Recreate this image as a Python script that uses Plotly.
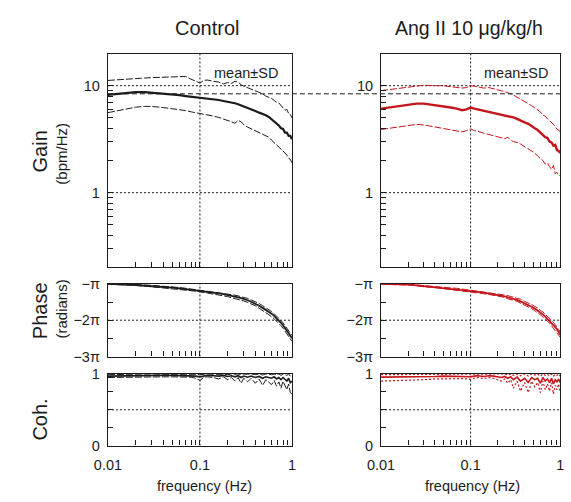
import plotly.graph_objects as go

# ---------------- data ----------------
freq = [0.01, 0.015, 0.02, 0.025, 0.03, 0.04, 0.05, 0.06, 0.07, 0.08, 0.09, 0.10,
        0.11, 0.12, 0.14, 0.16, 0.18, 0.20, 0.22, 0.24, 0.26, 0.28, 0.30, 0.33,
        0.36, 0.40, 0.44, 0.48, 0.52, 0.56, 0.60, 0.64, 0.68, 0.72, 0.76, 0.80,
        0.84, 0.88, 0.92, 0.96, 1.00]

ctrl_gain_mean = [8.2, 8.5, 8.7, 8.7, 8.6, 8.45, 8.3, 8.15, 8.0, 7.9, 7.8, 7.7,
                  7.65, 7.6, 7.45, 7.35, 7.2, 7.1, 6.95, 6.85, 6.7, 6.55, 6.4, 6.2,
                  6.0, 5.8, 5.6, 5.45, 5.3, 5.1, 4.85, 4.65, 4.45, 4.25, 4.0, 3.95,
                  3.65, 3.65, 3.4, 3.4, 3.15]
ctrl_gain_upper = [11.2, 11.5, 11.8, 11.8, 11.9, 12.0, 12.0, 12.1, 12.2, 11.5, 11.0, 10.6,
                   11.2, 11.3, 11.0, 10.8, 10.4, 10.7, 10.5, 11.0, 10.8, 10.2, 9.9, 9.6,
                   9.3, 9.0, 8.7, 8.4, 8.0, 7.8, 7.6, 7.3, 7.0, 6.9, 6.5, 6.3,
                   5.9, 6.0, 5.5, 5.4, 5.0]
ctrl_gain_lower = [5.6, 6.0, 6.3, 6.4, 6.4, 6.25, 6.1, 6.0, 5.85, 5.7, 5.6, 5.5,
                   5.4, 5.35, 5.2, 5.05, 4.9, 4.75, 4.6, 4.45, 4.75, 4.6, 4.3, 4.1,
                   3.95, 3.8, 3.65, 3.5, 3.4, 3.3, 3.1, 2.95, 2.8, 2.7, 2.55, 2.45,
                   2.35, 2.25, 2.1, 2.05, 1.9]

ang_gain_mean = [6.1, 6.4, 6.65, 6.8, 6.8, 6.6, 6.4, 6.25, 6.1, 5.9, 6.0, 6.25,
                 6.1, 6.0, 5.85, 5.75, 5.6, 5.5, 5.4, 5.3, 5.2, 5.1, 5.05, 4.9,
                 4.7, 4.55, 4.4, 4.15, 4.0, 3.85, 3.65, 3.5, 3.3, 3.25, 3.0, 2.95,
                 2.75, 2.8, 2.5, 2.45, 2.35]
ang_gain_upper = [9.0, 9.4, 9.7, 9.9, 10.1, 10.0, 10.0, 9.8, 9.7, 9.5, 9.6, 10.0,
                  9.9, 9.7, 9.5, 9.6, 9.4, 9.2, 9.0, 8.8, 8.6, 8.4, 8.2, 7.8,
                  7.5, 7.2, 6.8, 6.5, 6.2, 5.9, 5.7, 5.3, 5.2, 4.9, 4.7, 4.5,
                  4.3, 4.2, 3.9, 3.85, 3.7]
ang_gain_lower = [3.9, 4.1, 4.3, 4.35, 4.3, 4.1, 3.95, 3.85, 3.75, 3.7, 3.8, 3.95,
                  3.8, 3.75, 3.6, 3.5, 3.45, 3.35, 3.3, 3.2, 3.3, 3.1, 3.0, 2.95,
                  2.85, 2.7, 2.6, 2.45, 2.35, 2.2, 2.1, 2.0, 1.85, 1.9, 1.75, 1.65,
                  1.8, 1.5, 1.55, 1.45, 1.45]

# phase in units of pi (radians / pi)
ctrl_phase_mean = [-1.00, -1.01, -1.03, -1.05, -1.06, -1.08, -1.10, -1.12, -1.14, -1.16, -1.17, -1.19,
                   -1.20, -1.22, -1.24, -1.26, -1.28, -1.30, -1.33, -1.35, -1.37, -1.39, -1.41, -1.45,
                   -1.49, -1.54, -1.60, -1.66, -1.71, -1.76, -1.82, -1.88, -1.94, -2.00, -2.07, -2.14,
                   -2.21, -2.29, -2.36, -2.43, -2.50]
ctrl_phase_upper = [-0.99, -1.00, -1.02, -1.03, -1.04, -1.06, -1.08, -1.10, -1.12, -1.14, -1.15, -1.17,
                    -1.18, -1.19, -1.21, -1.23, -1.25, -1.27, -1.29, -1.31, -1.33, -1.35, -1.37, -1.40,
                    -1.44, -1.49, -1.54, -1.60, -1.65, -1.70, -1.76, -1.82, -1.88, -1.94, -2.01, -2.07,
                    -2.14, -2.21, -2.28, -2.35, -2.42]
ctrl_phase_lower = [-1.01, -1.02, -1.04, -1.06, -1.08, -1.10, -1.12, -1.14, -1.16, -1.18, -1.20, -1.22,
                    -1.23, -1.25, -1.28, -1.30, -1.32, -1.35, -1.38, -1.40, -1.42, -1.45, -1.47, -1.51,
                    -1.55, -1.60, -1.67, -1.73, -1.78, -1.84, -1.90, -1.96, -2.02, -2.08, -2.15, -2.22,
                    -2.30, -2.38, -2.45, -2.52, -2.58]

ang_phase_mean = [-1.00, -1.00, -1.02, -1.04, -1.06, -1.09, -1.11, -1.13, -1.14, -1.16, -1.17, -1.19,
                  -1.20, -1.22, -1.24, -1.26, -1.28, -1.30, -1.32, -1.34, -1.37, -1.39, -1.41, -1.44,
                  -1.48, -1.53, -1.58, -1.63, -1.68, -1.73, -1.79, -1.84, -1.90, -1.96, -2.01, -2.07,
                  -2.13, -2.19, -2.25, -2.32, -2.40]
ang_phase_upper = [-0.99, -0.99, -1.01, -1.03, -1.05, -1.07, -1.09, -1.11, -1.12, -1.14, -1.15, -1.17,
                   -1.18, -1.19, -1.21, -1.23, -1.25, -1.27, -1.28, -1.31, -1.32, -1.35, -1.36, -1.40,
                   -1.42, -1.48, -1.52, -1.57, -1.62, -1.66, -1.73, -1.77, -1.84, -1.89, -1.95, -2.00,
                   -2.06, -2.12, -2.18, -2.25, -2.33]
ang_phase_lower = [-1.01, -1.01, -1.03, -1.05, -1.08, -1.10, -1.13, -1.15, -1.16, -1.18, -1.19, -1.21,
                   -1.22, -1.24, -1.27, -1.29, -1.31, -1.33, -1.36, -1.37, -1.41, -1.43, -1.46, -1.48,
                   -1.53, -1.58, -1.64, -1.68, -1.74, -1.79, -1.85, -1.91, -1.96, -2.03, -2.08, -2.15,
                   -2.20, -2.27, -2.33, -2.40, -2.47]

ctrl_coh_mean = [0.97, 0.975, 0.98, 0.98, 0.98, 0.98, 0.98, 0.98, 0.98, 0.975, 0.97, 0.96,
                 0.975, 0.98, 0.975, 0.97, 0.98, 0.965, 0.975, 0.96, 0.975, 0.95, 0.97, 0.955,
                 0.97, 0.95, 0.965, 0.94, 0.96, 0.95, 0.94, 0.96, 0.93, 0.95, 0.92, 0.95,
                 0.93, 0.90, 0.94, 0.88, 0.90]
ctrl_coh_upper = [0.99, 0.995, 0.995, 0.995, 1.0, 0.995, 1.0, 0.995, 0.995, 1.0, 0.995, 0.99,
                  0.995, 1.0, 0.995, 1.0, 0.995, 0.99, 1.0, 0.995, 1.0, 0.99, 1.0, 0.995,
                  1.0, 0.99, 1.0, 0.985, 1.0, 0.995, 0.99, 1.0, 0.985, 1.0, 0.98, 1.0,
                  0.99, 0.98, 1.0, 0.97, 0.99]
ctrl_coh_lower = [0.95, 0.955, 0.96, 0.96, 0.96, 0.96, 0.96, 0.96, 0.96, 0.955, 0.94, 0.91,
                  0.95, 0.96, 0.95, 0.93, 0.96, 0.92, 0.95, 0.90, 0.95, 0.87, 0.94, 0.89,
                  0.94, 0.87, 0.93, 0.84, 0.92, 0.88, 0.85, 0.91, 0.83, 0.89, 0.80, 0.90,
                  0.84, 0.78, 0.86, 0.74, 0.72]

ang_coh_mean = [0.955, 0.955, 0.96, 0.96, 0.965, 0.965, 0.97, 0.965, 0.97, 0.965, 0.96, 0.96,
                0.97, 0.975, 0.965, 0.975, 0.97, 0.96, 0.95, 0.965, 0.94, 0.96, 0.92, 0.955,
                0.90, 0.94, 0.88, 0.95, 0.92, 0.94, 0.87, 0.95, 0.90, 0.93, 0.88, 0.94,
                0.86, 0.92, 0.89, 0.93, 0.88]
ang_coh_upper = [0.99, 0.99, 0.995, 0.995, 0.995, 1.0, 0.995, 1.0, 0.995, 1.0, 0.995, 0.99,
                 1.0, 1.0, 0.995, 1.0, 1.0, 0.995, 0.99, 1.0, 0.985, 1.0, 0.98, 1.0,
                 0.975, 1.0, 0.97, 1.0, 0.985, 1.0, 0.97, 1.0, 0.98, 0.995, 0.975, 1.0,
                 0.97, 0.995, 0.98, 1.0, 0.97]
ang_coh_lower = [0.90, 0.905, 0.91, 0.915, 0.92, 0.93, 0.935, 0.935, 0.94, 0.935, 0.93, 0.925,
                 0.94, 0.95, 0.935, 0.95, 0.94, 0.92, 0.90, 0.93, 0.87, 0.92, 0.80, 0.90,
                 0.76, 0.88, 0.74, 0.90, 0.82, 0.88, 0.74, 0.90, 0.78, 0.86, 0.76, 0.88,
                 0.72, 0.84, 0.78, 0.86, 0.74]

ref_gain = 8.4  # control low-frequency gain reference level

# ticks (labels empty on minor ticks)
x_tickvals = [0.01, 0.02, 0.03, 0.04, 0.05, 0.06, 0.07, 0.08, 0.09,
              0.1, 0.2, 0.3, 0.4, 0.5, 0.6, 0.7, 0.8, 0.9, 1]
x_ticktext = ["0.01", "", "", "", "", "", "", "", "",
              "0.1", "", "", "", "", "", "", "", "", "1"]
gain_tickvals = [0.3, 0.4, 0.5, 0.6, 0.7, 0.8, 0.9, 1, 2, 3, 4, 5, 6, 7, 8, 9, 10]
gain_ticktext = ["", "", "", "", "", "", "", "1", "", "", "", "", "", "", "", "", "10"]
phase_tickvals = [-3, -2.5, -2, -1.5, -1]
phase_ticktext = ["\u22123\u03c0", "", "\u22122\u03c0", "", "\u2212\u03c0"]
coh_tickvals = [0, 0.25, 0.5, 0.75, 1]
coh_ticktext = ["0", "", "", "", "1"]

# dotted grid positions
x_grid = [0.1]
gain_grid = [1, 10]
phase_grid = [-2]
coh_grid = [0.5]

# ---------------- styling ----------------
W, H = 571, 502
BLACK = "#1c1c1c"
RED = "#c4161c"
FONT = "Liberation Sans, Arial, sans-serif"

xL = [97 / W, 287 / W]
xR = [379 / W, 564 / W]
yGain = [1 - 268 / H, 1 - 47 / H]
yPhase = [1 - 360 / H, 1 - 285 / H]
yCoh = [1 - 452 / H, 1 - 378 / H]

fig = go.Figure()


def add(x, y, xa, ya, color, width, dash):
    fig.add_trace(go.Scatter(x=x, y=y, xaxis=xa, yaxis=ya, mode="lines",
                             line=dict(color=color, width=width, dash=dash),
                             showlegend=False, hoverinfo="skip"))


SD_DASH = "7px,2px"
COH_DOT = "2px,2px"

# Control
add(freq, ctrl_gain_upper, "x", "y", BLACK, 1, SD_DASH)
add(freq, ctrl_gain_lower, "x", "y", BLACK, 1, SD_DASH)
add(freq, ctrl_gain_mean, "x", "y", BLACK, 2.2, "solid")
add(freq, ctrl_phase_upper, "x2", "y2", BLACK, 1, SD_DASH)
add(freq, ctrl_phase_lower, "x2", "y2", BLACK, 1, SD_DASH)
add(freq, ctrl_phase_mean, "x2", "y2", BLACK, 1.8, "solid")
add(freq, ctrl_coh_upper, "x3", "y3", BLACK, 1, SD_DASH)
add(freq, ctrl_coh_lower, "x3", "y3", BLACK, 1, SD_DASH)
add(freq, ctrl_coh_mean, "x3", "y3", BLACK, 1.6, "solid")
# Ang II
add(freq, ang_gain_upper, "x4", "y4", RED, 1, SD_DASH)
add(freq, ang_gain_lower, "x4", "y4", RED, 1, SD_DASH)
add(freq, ang_gain_mean, "x4", "y4", RED, 2.4, "solid")
add(freq, ang_phase_upper, "x5", "y5", RED, 1, SD_DASH)
add(freq, ang_phase_lower, "x5", "y5", RED, 1, SD_DASH)
add(freq, ang_phase_mean, "x5", "y5", RED, 1.8, "solid")
add(freq, ang_coh_upper, "x6", "y6", RED, 1.2, COH_DOT)
add(freq, ang_coh_lower, "x6", "y6", RED, 1.2, COH_DOT)
add(freq, ang_coh_mean, "x6", "y6", RED, 1.6, "solid")

tickfont = dict(family=FONT, size=14.5, color=BLACK)
common = dict(showline=True, linecolor=BLACK, linewidth=1.2, mirror=True,
              ticks="inside", ticklen=5, tickcolor=BLACK, tickwidth=1.2,
              showgrid=False, zeroline=False, tickfont=tickfont, fixedrange=True,
              tickmode="array")


def xaxis(domain, anchor, labels):
    return dict(common, type="log", domain=domain, anchor=anchor,
                range=[-2, 0], tickvals=x_tickvals, ticktext=x_ticktext,
                showticklabels=labels, ticklabelstandoff=6)


def gain_y(domain, anchor):
    return dict(common, type="log", domain=domain, anchor=anchor,
                range=[-0.699, 1.301], tickvals=gain_tickvals,
                ticktext=gain_ticktext, ticklabelstandoff=4)


def phase_y(domain, anchor):
    return dict(common, domain=domain, anchor=anchor, range=[-3, -1],
                tickvals=phase_tickvals, ticktext=phase_ticktext, ticklabelstandoff=4)


def coh_y(domain, anchor):
    return dict(common, domain=domain, anchor=anchor, range=[0, 1],
                tickvals=coh_tickvals, ticktext=coh_ticktext, ticklabelstandoff=4)


fig.update_layout(
    width=W, height=H,
    margin=dict(l=0, r=0, t=0, b=0),
    paper_bgcolor="white", plot_bgcolor="white",
    showlegend=False,
    font=dict(family=FONT, color=BLACK),
    xaxis=xaxis(xL, "y", False),
    yaxis=gain_y(yGain, "x"),
    xaxis2=xaxis(xL, "y2", False),
    yaxis2=phase_y(yPhase, "x2"),
    xaxis3=xaxis(xL, "y3", True),
    yaxis3=coh_y(yCoh, "x3"),
    xaxis4=xaxis(xR, "y4", False),
    yaxis4=gain_y(yGain, "x4"),
    xaxis5=xaxis(xR, "y5", False),
    yaxis5=phase_y(yPhase, "x5"),
    xaxis6=xaxis(xR, "y6", True),
    yaxis6=coh_y(yCoh, "x6"),
)

GRID = dict(color=BLACK, width=1, dash="2px,2px")
panels = [("x", "y", gain_grid), ("x2", "y2", phase_grid), ("x3", "y3", coh_grid),
          ("x4", "y4", gain_grid), ("x5", "y5", phase_grid), ("x6", "y6", coh_grid)]
for xa, ya, ygrid in panels:
    for gx in x_grid:
        fig.add_shape(type="line", xref=xa, yref=ya + " domain", x0=gx, x1=gx,
                      y0=0, y1=1, line=GRID, layer="below")
    for gy in ygrid:
        fig.add_shape(type="line", xref=xa + " domain", yref=ya, x0=0, x1=1,
                      y0=gy, y1=gy, line=GRID, layer="below")

# reference dashed line at control gain level, spanning both gain panels
fig.add_shape(type="line", xref="paper", yref="y", x0=xL[0], x1=xR[1],
              y0=ref_gain, y1=ref_gain,
              line=dict(color=BLACK, width=1, dash="5px,3px"))


def px(x):
    return x / W


def py(y):
    return 1 - y / H


ann = []
ann.append(dict(text="Control", x=px(199), y=py(21), font=dict(size=20)))
ann.append(dict(text="Ang II 10 \u03bcg/kg/h", x=px(470), y=py(21), font=dict(size=19.5)))
ann.append(dict(text="mean\u00b1SD", x=px(240), y=py(67), font=dict(size=14.5)))
ann.append(dict(text="mean\u00b1SD", x=px(518), y=py(67), font=dict(size=14.5)))
ann.append(dict(text="Gain", x=px(27), y=py(148), font=dict(size=20), textangle=-90))
ann.append(dict(text="(bpm/Hz)", x=px(49), y=py(150), font=dict(size=15), textangle=-90))
ann.append(dict(text="Phase", x=px(27), y=py(313), font=dict(size=20), textangle=-90))
ann.append(dict(text="(radians)", x=px(49), y=py(311), font=dict(size=15), textangle=-90))
ann.append(dict(text="Coh.", x=px(27), y=py(425), font=dict(size=20), textangle=-90))
ann.append(dict(text="frequency (Hz)", x=px(197), y=py(494), font=dict(size=14.5)))
ann.append(dict(text="frequency (Hz)", x=px(473), y=py(494), font=dict(size=14.5)))
for a in ann:
    a.update(xref="paper", yref="paper", showarrow=False, xanchor="center", yanchor="middle")
    a["font"] = dict(family=FONT, color=BLACK, **a["font"])
fig.update_layout(annotations=ann)

fig.write_html("out.html")
